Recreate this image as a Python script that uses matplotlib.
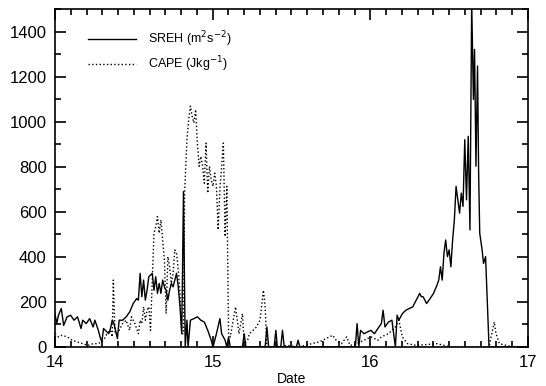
import numpy as np
import matplotlib.pyplot as plt
from matplotlib.ticker import MultipleLocator

# SREH (m2 s-2)
sreh_date = [14.000, 14.011, 14.022, 14.040, 14.055, 14.077, 14.099, 14.121, 14.143, 14.165,
             14.176, 14.198, 14.220, 14.242, 14.253, 14.275, 14.286, 14.297, 14.308, 14.330,
             14.341, 14.352, 14.363, 14.374, 14.396, 14.407, 14.429, 14.452, 14.474, 14.496,
             14.518, 14.529, 14.540, 14.551, 14.562, 14.573, 14.584, 14.595, 14.617, 14.628,
             14.639, 14.650, 14.661, 14.672, 14.683, 14.694, 14.705, 14.716, 14.727, 14.738,
             14.749, 14.760, 14.771, 14.782, 14.793, 14.804, 14.815, 14.826, 14.837, 14.844,
             14.859, 14.881, 14.903, 14.925, 14.947, 14.969, 14.991, 15.002, 15.024, 15.046,
             15.057, 15.079, 15.090, 15.101, 15.112, 15.189, 15.200, 15.211, 15.333, 15.344,
             15.355, 15.390, 15.401, 15.410, 15.432, 15.443, 15.454, 15.531, 15.542, 15.553,
             15.905, 15.916, 15.927, 15.938, 15.960, 15.982, 16.004, 16.026, 16.048, 16.070,
             16.081, 16.093, 16.115, 16.137, 16.159, 16.170, 16.181, 16.203, 16.225, 16.247,
             16.269, 16.291, 16.313, 16.324, 16.335, 16.357, 16.379, 16.401, 16.423, 16.434,
             16.445, 16.456, 16.467, 16.478, 16.489, 16.500, 16.511, 16.522, 16.533, 16.544,
             16.555, 16.566, 16.577, 16.588, 16.599, 16.610, 16.621, 16.632, 16.643, 16.654,
             16.661, 16.670, 16.680, 16.687, 16.694, 16.709, 16.718, 16.731, 16.753, 17.000]
sreh_val = [148, 104, 141, 171, 96, 134, 141, 119, 134, 82,
            119, 104, 126, 89, 119, 74, 45, 22, 82, 67,
            59, 82, 119, 104, 37, 119, 119, 134, 156, 193,
            215, 208, 327, 223, 297, 208, 252, 312, 327, 252,
            312, 238, 282, 238, 297, 267, 252, 208, 252, 282,
            267, 297, 327, 267, 178, 59, 690, 0, 119, 0,
            119, 126, 134, 119, 111, 74, 30, 0, 59, 126,
            59, 30, 0, 45, 0, 0, 59, 0, 0, 89,
            0, 0, 74, 0, 0, 74, 0, 0, 30, 0,
            0, 104, 0, 74, 59, 67, 74, 59, 82, 104,
            163, 89, 111, 119, 0, 141, 119, 148, 163, 171,
            178, 208, 238, 223, 223, 193, 215, 238, 275, 297,
            356, 297, 416, 475, 401, 431, 356, 475, 564, 713,
            653, 594, 683, 624, 920, 653, 935, 520, 1529, 1099,
            1321, 802, 1247, 772, 505, 431, 371, 401, 0, 0]

# CAPE (J kg-1)
cape_date = [14.000, 14.022, 14.044, 14.077, 14.110, 14.143, 14.176, 14.209, 14.242, 14.275,
             14.308, 14.330, 14.352, 14.363, 14.370, 14.381, 14.407, 14.429, 14.451, 14.473,
             14.485, 14.507, 14.529, 14.540, 14.551, 14.562, 14.573, 14.584, 14.595, 14.606,
             14.617, 14.628, 14.639, 14.650, 14.661, 14.672, 14.683, 14.694, 14.705, 14.716,
             14.727, 14.738, 14.749, 14.760, 14.771, 14.782, 14.793, 14.804, 14.815, 14.822,
             14.837, 14.848, 14.859, 14.870, 14.881, 14.892, 14.903, 14.914, 14.925, 14.936,
             14.947, 14.958, 14.969, 14.980, 14.991, 15.002, 15.013, 15.024, 15.035, 15.046,
             15.057, 15.068, 15.079, 15.090, 15.101, 15.112, 15.123, 15.145, 15.156, 15.167,
             15.189, 15.200, 15.222, 15.233, 15.256, 15.278, 15.300, 15.322, 15.333, 15.344,
             15.410, 15.476, 15.542, 15.630, 15.674, 15.718, 15.762, 15.784, 15.817, 15.850,
             15.872, 15.916, 15.960, 16.004, 16.048, 16.070, 16.115, 16.159, 16.181, 16.203,
             16.236, 16.291, 16.423, 16.511, 16.753, 16.775, 16.786, 16.797, 16.819, 16.863,
             16.907, 17.000]
cape_val = [59, 45, 52, 45, 30, 22, 15, 7, 15, 15,
            30, 59, 74, 45, 297, 59, 74, 104, 119, 74,
            134, 104, 59, 119, 104, 178, 119, 163, 178, 74,
            297, 505, 534, 579, 505, 564, 475, 386, 148, 401,
            356, 282, 327, 431, 416, 341, 238, 59, 59, 683,
            920, 1009, 1069, 1024, 995, 1054, 905, 802, 846, 802,
            727, 905, 683, 802, 742, 713, 772, 713, 520, 698,
            802, 905, 490, 713, 59, 45, 89, 178, 119, 59,
            148, 15, 30, 59, 74, 89, 119, 252, 178, 0,
            0, 7, 0, 15, 22, 37, 52, 30, 15, 45,
            7, 15, 30, 45, 30, 45, 59, 89, 119, 45,
            15, 7, 15, 0, 0, 74, 111, 59, 15, 7,
            0, 0]

plt.rcParams['font.family'] = ['Liberation Sans', 'DejaVu Sans']

fig = plt.figure(figsize=(5.46, 3.86), dpi=100)
ax = fig.add_axes([0.1007, 0.101, 0.8663, 0.8757])

ax.plot(sreh_date, sreh_val, color='black', lw=1.0, label='SREH (m$^2$s$^{-2}$)')
ax.plot(cape_date, cape_val, color='black', lw=1.0, linestyle=':',
        label='CAPE (Jkg$^{-1}$)')

ax.set_xlim(14, 17)
ax.set_ylim(0, 1500)
ax.xaxis.set_major_locator(MultipleLocator(1))
ax.xaxis.set_minor_locator(MultipleLocator(0.1))
ax.yaxis.set_major_locator(MultipleLocator(200))
ax.yaxis.set_minor_locator(MultipleLocator(100))
ax.tick_params(which='both', direction='in', top=True, right=True, labelsize=12, width=1.2)
ax.tick_params(which='major', length=8, pad=6)
ax.tick_params(which='minor', length=4)
for s in ax.spines.values():
    s.set_linewidth(1.2)

ax.set_xlabel('Date', fontsize=10, labelpad=1)

leg = ax.legend(loc='upper left', bbox_to_anchor=(0.06, 0.955), frameon=False,
                fontsize=9, handlelength=3.8, handletextpad=1.0, labelspacing=0.45,
                borderaxespad=0)

fig.savefig('out.png', dpi=100)
